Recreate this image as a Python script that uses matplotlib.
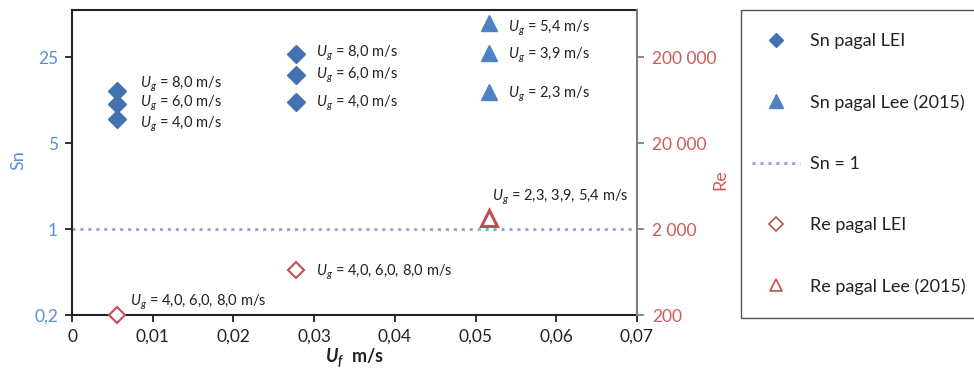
import matplotlib
matplotlib.use("Agg")
import matplotlib.pyplot as plt
from matplotlib.lines import Line2D
from matplotlib.patches import Rectangle
import numpy as np

plt.rcParams['font.family'] = ['Lato', 'DejaVu Sans']
plt.rcParams['mathtext.fontset'] = 'custom'
plt.rcParams['mathtext.rm'] = 'Lato'
plt.rcParams['mathtext.it'] = 'Lato:italic'
plt.rcParams['mathtext.bf'] = 'Lato:bold:italic'

# ---- data ----
sn_lei_x = [0.0056, 0.0056, 0.0056, 0.0278, 0.0278, 0.0278]
sn_lei = [13.2, 10.4, 7.8, 26.4, 17.8, 10.8]
sn_lei_labels = ["$U_g$ = 8,0 m/s", "$U_g$ = 6,0 m/s", "$U_g$ = 4,0 m/s",
                 "$U_g$ = 8,0 m/s", "$U_g$ = 6,0 m/s", "$U_g$ = 4,0 m/s"]

sn_lee_x = [0.0517, 0.0517, 0.0517]
sn_lee = [47.2, 26.9, 13.0]
sn_lee_labels = ["$U_g$ = 5,4 m/s", "$U_g$ = 3,9 m/s", "$U_g$ = 2,3 m/s"]

re_lei_x = [0.0056, 0.0278]
re_lei = [200, 667]
re_lei_labels = ["$U_g$ = 4,0, 6,0, 8,0 m/s", "$U_g$ = 4,0, 6,0, 8,0 m/s"]

re_lee_x = [0.0517]
re_lee = [2690]
re_lee_labels = ["$U_g$ = 2,3, 3,9, 5,4 m/s"]

sn_ref = 1

x_ticks = [0, 0.01, 0.02, 0.03, 0.04, 0.05, 0.06, 0.07]
x_ticklabels = ["0", "0,01", "0,02", "0,03", "0,04", "0,05", "0,06", "0,07"]
sn_ticks = [0.2, 1, 5, 25]
sn_ticklabels = ["0,2", "1", "5", "25"]
re_ticks = [200, 2000, 20000, 200000]
re_ticklabels = ["200", "2 000", "20 000", "200 000"]

legend_labels = ["Sn pagal LEI", "Sn pagal Lee (2015)", "Sn = 1",
                 "Re pagal LEI", "Re pagal Lee (2015)"]

# ---- style ----
BLUE_D = "#4472B0"
BLUE_T = "#4F81C4"
RED = "#C0504D"
SN_COL = "#5B8FD0"
RE_COL = "#D05A58"
LINE_COL = "#8EA9DB"

W, H = 974, 373
fig = plt.figure(figsize=(W / 100, H / 100), dpi=100)
ax = fig.add_axes([72 / W, 58 / H, (637 - 72) / W, (315 - 10) / H])
ax2 = ax.twinx()

n = 3.547
ax.set_yscale('log')
ax.set_ylim(0.2, 0.2 * 5 ** n)
ax2.set_yscale('log')
ax2.set_ylim(200, 200 * 10 ** n)
ax.set_xlim(0, 0.07)

# Sn markers
ax.plot(sn_lei_x, sn_lei, linestyle='none', marker='D', ms=9, color=BLUE_D,
        mec=BLUE_D, zorder=5)
ax.plot(sn_lee_x, sn_lee, linestyle='none', marker='^', ms=12, color=BLUE_T,
        mec=BLUE_T, zorder=5)
ax.axhline(sn_ref, color=LINE_COL, linestyle=(0, (1, 1.6)), lw=2.2, zorder=2)

# Re markers
ax2.plot(re_lei_x, re_lei, linestyle='none', marker='D', ms=8, mfc='white',
         mec=RED, mew=1.5, clip_on=False, zorder=5)
ax2.plot(re_lee_x, re_lee, linestyle='none', marker='^', ms=11, mfc='white',
         mec=RED, mew=2.2, clip_on=False, zorder=5)

FS_ANN = 10.5
sn_lei_off = [(23, 7), (23, 1), (23, -5), (20, 1), (20, 0), (20, -1)]
for x, y, lab, off in zip(sn_lei_x, sn_lei, sn_lei_labels, sn_lei_off):
    ax.annotate(lab, (x, y), xytext=off, textcoords='offset pixels',
                ha='left', va='center', fontsize=FS_ANN, color='#222222')
sn_lee_off = [(19, -5), (19, -2), (19, -2)]
for x, y, lab, off in zip(sn_lee_x, sn_lee, sn_lee_labels, sn_lee_off):
    ax.annotate(lab, (x, y), xytext=off, textcoords='offset pixels',
                ha='left', va='center', fontsize=FS_ANN, color='#222222')
re_lei_off = [(13, 13), (20, -2)]
for x, y, lab, off in zip(re_lei_x, re_lei, re_lei_labels, re_lei_off):
    ax2.annotate(lab, (x, y), xytext=off, textcoords='offset pixels',
                 ha='left', va='center', fontsize=FS_ANN, color='#222222')
re_lee_off = [(3, 21)]
for x, y, lab, off in zip(re_lee_x, re_lee, re_lee_labels, re_lee_off):
    ax2.annotate(lab, (x, y), xytext=off, textcoords='offset pixels',
                 ha='left', va='center', fontsize=FS_ANN, color='#222222')

# ticks
FS_TICK = 12.5
ax.set_xticks(x_ticks)
ax.set_xticklabels(x_ticklabels, fontsize=FS_TICK, color='#222222')
ax.set_yticks(sn_ticks)
ax.set_yticklabels(sn_ticklabels, fontsize=FS_TICK, color=SN_COL)
ax.yaxis.set_minor_locator(matplotlib.ticker.NullLocator())
ax2.set_yticks(re_ticks)
ax2.set_yticklabels(re_ticklabels, fontsize=FS_TICK, color=RE_COL)
ax2.yaxis.set_minor_locator(matplotlib.ticker.NullLocator())

ax.tick_params(axis='x', direction='out', length=5, width=1.3, pad=5,
               color='#222222')
ax.tick_params(axis='y', direction='out', length=5, width=1.3, pad=5,
               color='#222222')
ax2.tick_params(axis='y', direction='out', length=5, width=1.3, pad=6,
                color='#7F7F7F')

for sp in ['left', 'bottom', 'top']:
    ax.spines[sp].set_linewidth(1.5)
    ax.spines[sp].set_color('#222222')
    ax2.spines[sp].set_visible(False)
ax.spines['right'].set_visible(False)
ax2.spines['right'].set_color('#7F7F7F')
ax2.spines['right'].set_linewidth(1.5)

ax.set_xlabel(r"$\mathbf{U_f}$  m/s", fontsize=13, fontweight='bold',
              color='#222222', labelpad=1)
fig.text(18 / W, 1 - 160 / H, "Sn", rotation=90, ha='center', va='center',
         fontsize=13, color=SN_COL)
fig.text(720 / W, 1 - 180 / H, "Re", rotation=90, ha='center', va='center',
         fontsize=13, color=RE_COL)

# legend
fig.patches.append(Rectangle((741 / W, 1 - 318 / H), (990 - 741) / W,
                             (318 - 10) / H, transform=fig.transFigure,
                             fill=False, edgecolor='#555555', lw=1.0))
handles = [
    Line2D([], [], linestyle='none', marker='D', ms=7, color=BLUE_D),
    Line2D([], [], linestyle='none', marker='^', ms=10, color=BLUE_T),
    Line2D([], [], color=LINE_COL, linestyle=(0, (1, 1.6)), lw=2.2),
    Line2D([], [], linestyle='none', marker='D', ms=7, mfc='white', mec=RED,
           mew=1.2),
    Line2D([], [], linestyle='none', marker='^', ms=9, mfc='white', mec=RED,
           mew=1.2),
]
fig.legend(handles, legend_labels, loc='upper left',
           bbox_to_anchor=(752 / W, 1 - 33 / H), frameon=False,
           fontsize=13, labelspacing=2.5, handlelength=2.67,
           handletextpad=0.55, borderaxespad=0, borderpad=0,
           labelcolor='#222222')

fig.savefig("out.png", dpi=100)
